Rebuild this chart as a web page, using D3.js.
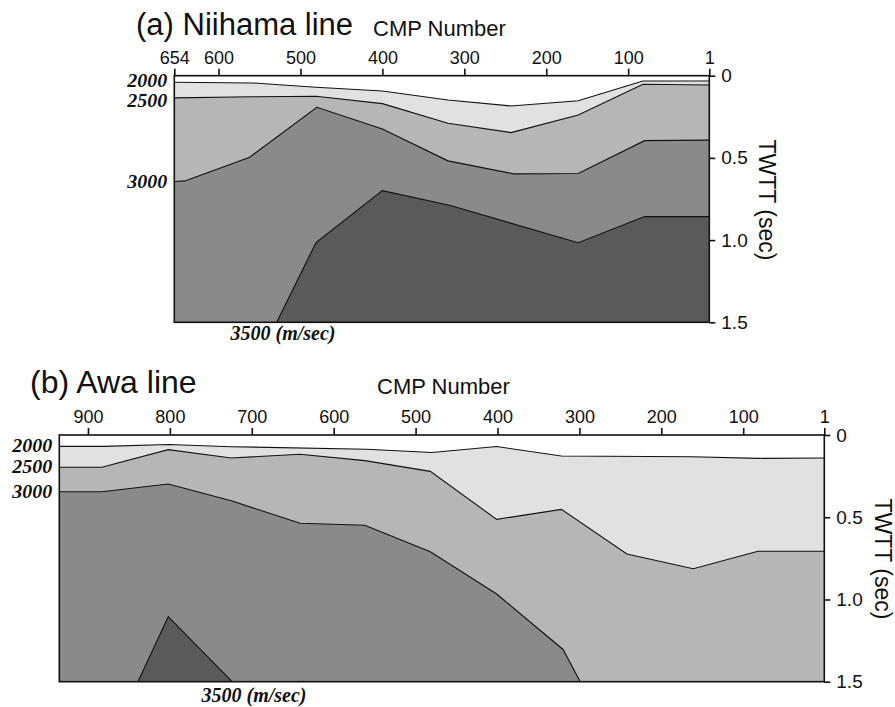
<!DOCTYPE html>
<html>
<head>
<meta charset="utf-8">
<script src="https://cdn.jsdelivr.net/npm/d3@7/dist/d3.min.js"></script>
<style>
  html, body { margin: 0; padding: 0; background: #fff; }
  svg { display: block; }
</style>
</head>
<body>
<svg id="chart" width="895" height="707"></svg>
<script>
// ---------------- DATA ----------------
// Panel (a) Niihama line
const niihamaTicks = [654, 600, 500, 400, 300, 200, 100, 1];
const twttTicks = [0, 0.5, 1.0, 1.5];
const twttTickLabels = ["0", "0.5", "1.0", "1.5"];
// boundaries: [CMP, TWTT(sec)]
const niihamaTop2000 = [[654,0.040],[559,0.044],[481,0.070],[400,0.093],[320,0.148],[243,0.184],[161,0.152],[82,0.032],[1,0.032]];
const niihamaTop2500 = [[654,0.135],[559,0.128],[481,0.125],[400,0.170],[320,0.289],[243,0.346],[161,0.239],[82,0.052],[1,0.057]];
const niihamaTop3000 = [[654,0.644],[641,0.640],[562,0.496],[480,0.192],[400,0.324],[320,0.518],[240,0.597],[161,0.595],[80,0.395],[1,0.392]];
const niihamaTop3500 = [[529,1.5],[481,1.015],[400,0.699],[317,0.790],[161,1.016],[80,0.857],[1,0.857]];

// Panel (b) Awa line
const awaTicks = [900, 800, 700, 600, 500, 400, 300, 200, 100, 1];
const awaTop2000 = [[935,0.069],[881,0.069],[801,0.058],[725,0.071],[560,0.087],[480,0.106],[401,0.070],[322,0.128],[163,0.132],[82,0.142],[1,0.140]];
const awaTop2500 = [[935,0.196],[883,0.196],[802,0.089],[725,0.140],[641,0.117],[562,0.156],[482,0.221],[401,0.513],[322,0.452],[242,0.724],[161,0.813],[82,0.707],[1,0.707]];
const awaTop3000 = [[935,0.345],[883,0.345],[802,0.298],[725,0.400],[641,0.537],[562,0.549],[482,0.710],[401,0.967],[320,1.304],[299,1.5]];
const awaTop3500 = [[839,1.5],[802,1.105],[724,1.5]];

const velocityLabels = ["2000", "2500", "3000", "3500"];
const velocityColors = ["#e1e1e1", "#b6b6b6", "#8a8a8a", "#5a5a5a"];

// ---------------- DRAW ----------------
const svg = d3.select("#chart");
const SANS = "'Liberation Sans', Arial, sans-serif";
const SERIF = "'Liberation Serif', 'Times New Roman', serif";

function panel(cfg) {
  const x = d3.scaleLinear().domain(cfg.xDomain).range(cfg.xRange);
  const y = d3.scaleLinear().domain([0, 1.5]).range(cfg.yRange);
  const g = svg.append("g");

  const area = d3.area()
    .x(d => x(d[0]))
    .y0(y(1.5))
    .y1(d => y(d[1]));
  const line = d3.line().x(d => x(d[0])).y(d => y(d[1]));

  cfg.bounds.forEach((b, i) => {
    g.append("path").attr("d", area(b)).attr("fill", velocityColors[i]).attr("stroke", "none");
  });
  cfg.bounds.forEach(b => {
    g.append("path").attr("d", line(b)).attr("fill", "none")
      .attr("stroke", "#111").attr("stroke-width", 1.1);
  });

  // frame
  g.append("rect")
    .attr("x", cfg.xRange[0]).attr("y", cfg.yRange[0])
    .attr("width", cfg.xRange[1] - cfg.xRange[0])
    .attr("height", cfg.yRange[1] - cfg.yRange[0])
    .attr("fill", "none").attr("stroke", "#111").attr("stroke-width", 1.6);

  // top axis
  const top = g.append("g").attr("transform", `translate(0,${cfg.yRange[0]})`)
    .call(d3.axisTop(x).tickValues(cfg.ticks).tickFormat(d3.format("d"))
      .tickSize(7).tickPadding(5).tickSizeOuter(0));
  top.select(".domain").remove();
  top.selectAll(".tick line").attr("stroke", "#111").attr("stroke-width", 1.6);
  top.selectAll(".tick text").attr("fill", "#111")
    .style("font-family", SANS).style("font-size", "18px");

  // right axis
  const right = g.append("g").attr("transform", `translate(${cfg.xRange[1]},0)`)
    .call(d3.axisRight(y).tickValues(twttTicks)
      .tickFormat((d, i) => twttTickLabels[i])
      .tickSize(6).tickPadding(6).tickSizeOuter(0));
  right.select(".domain").remove();
  right.selectAll(".tick line").attr("stroke", "#111").attr("stroke-width", 1.6);
  right.selectAll(".tick text").attr("fill", "#111")
    .style("font-family", SANS).style("font-size", "19px");

  // titles
  g.append("text").attr("x", cfg.title[1]).attr("y", cfg.title[2])
    .style("font-family", SANS).style("font-size", cfg.title[3] + "px")
    .attr("fill", "#111").text(cfg.title[0]);
  g.append("text").attr("x", cfg.cmpLabel[0]).attr("y", cfg.cmpLabel[1])
    .style("font-family", SANS).style("font-size", "22px")
    .attr("fill", "#111").text("CMP Number");
  g.append("text")
    .attr("transform", `translate(${cfg.twtt[0]},${cfg.twtt[1]}) rotate(90)`)
    .attr("text-anchor", "middle").attr("dominant-baseline", "central")
    .style("font-family", SANS).style("font-size", "23px")
    .attr("fill", "#111").text("TWTT (sec)");

  // velocity labels at left end of each boundary
  cfg.bounds.slice(0, 3).forEach((b, i) => {
    g.append("text")
      .attr("x", cfg.xRange[0] - 7).attr("y", y(b[0][1]) + cfg.vOffsets[i])
      .attr("text-anchor", "end")
      .style("font-family", SERIF).style("font-size", "18px")
      .style("font-weight", "bold").style("font-style", "italic")
      .attr("textLength", 40).attr("lengthAdjust", "spacingAndGlyphs")
      .attr("fill", "#111").text(velocityLabels[i]);
  });
  g.append("text")
    .attr("x", cfg.v3500[0]).attr("y", cfg.v3500[1])
    .attr("text-anchor", "middle")
    .style("font-family", SERIF).style("font-size", "20px")
    .style("font-weight", "bold").style("font-style", "italic")
    .attr("fill", "#111").text(velocityLabels[3] + " (m/sec)");
}

panel({
  xDomain: [654, 1], xRange: [174.3, 709.3], yRange: [75.7, 322.3],
  ticks: niihamaTicks,
  bounds: [niihamaTop2000, niihamaTop2500, niihamaTop3000, niihamaTop3500],
  title: ["(a) Niihama line", 136, 35, 31],
  cmpLabel: [373, 35.5],
  twtt: [766.5, 200],
  vOffsets: [4.8, 9, 6.5],
  v3500: [283, 340]
});

panel({
  xDomain: [935, 1], xRange: [59.3, 824.3], yRange: [435, 681.7],
  ticks: awaTicks,
  bounds: [awaTop2000, awaTop2500, awaTop3000, awaTop3500],
  title: ["(b) Awa line", 30, 393, 32],
  cmpLabel: [377, 394],
  twtt: [882.5, 559],
  vOffsets: [6, 6, 6.5],
  v3500: [254, 701.5]
});
</script>
</body>
</html>
